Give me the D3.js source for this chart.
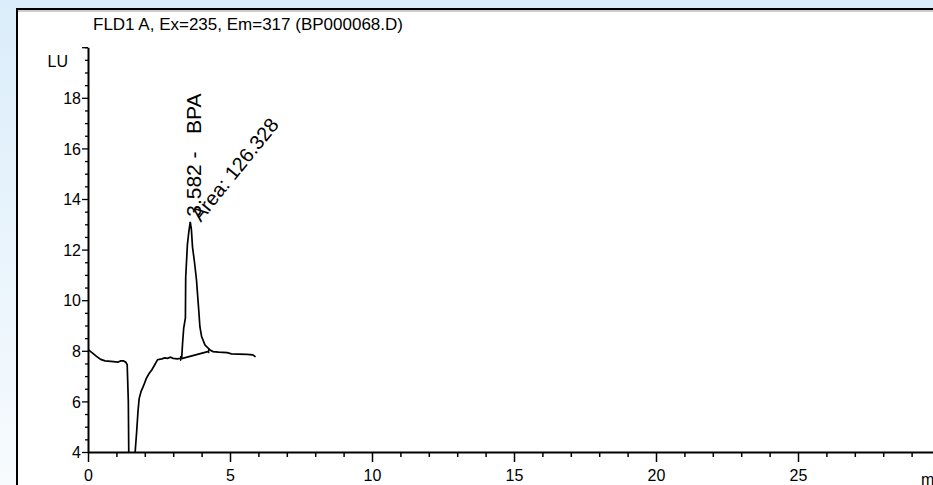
<!DOCTYPE html>
<html>
<head>
<meta charset="utf-8">
<script src="https://cdn.jsdelivr.net/npm/d3@7"></script>
<style>
  body { margin: 0; background: #ffffff; }
  svg { display: block; }
  text { font-family: "Liberation Sans", Arial, Helvetica, sans-serif; fill: #000; }
</style>
</head>
<body>
<svg id="chart" width="933" height="485"></svg>
<script>
// Signal header and axis ticks
const chartTitle = 'FLD1 A, Ex=235, Em=317 (BP000068.D)';
const yUnit = 'LU';
const xUnit = 'min';
const yMajorTicks = [4, 6, 8, 10, 12, 14, 16, 18];
const xMajorTicks = [0, 5, 10, 15, 20, 25];

// FLD trace: [retention time (min), signal (LU)]
const traceTimes = [
  0, 0.15, 0.3, 0.45, 0.6, 0.9, 1.05, 1.15, 1.25, 1.33, 1.38, 1.42, 1.45,
  1.62, 1.66, 1.71, 1.76, 1.8, 1.87, 1.95, 2.05, 2.15, 2.25, 2.35, 2.45,
  2.6, 2.7, 2.8, 2.9, 3.0, 3.15, 3.25, 3.3, 3.33, 3.37, 3.43, 3.44, 3.5,
  3.55, 3.6, 3.64, 3.68, 3.75, 3.82, 3.9, 3.94, 4.0, 4.12, 4.3, 4.4, 4.6,
  4.9, 5.05, 5.3, 5.6, 5.8, 5.9
];
const traceValues = [
  8.05, 7.92, 7.78, 7.66, 7.6, 7.57, 7.55, 7.6, 7.6, 7.55, 7.45, 6.0, 2.0,
  2.0, 4.0, 4.75, 5.6, 6.1, 6.4, 6.6, 6.9, 7.1, 7.25, 7.45, 7.65,
  7.68, 7.72, 7.7, 7.75, 7.7, 7.68, 7.7, 7.72, 8.3, 8.9, 9.3, 10.9, 12.2,
  12.7, 13.1, 12.8, 12.1, 11.5, 10.8, 9.6, 8.95, 8.56, 8.23, 8.03, 7.97, 7.95,
  7.93, 7.88, 7.87, 7.86, 7.84, 7.76
];

// integration baseline of the BPA peak
const baselineTimes = [3.26, 4.25];
const baselineValues = [7.68, 7.98];

// peak annotation
const peakTime = 3.582;
const peakValue = 13.1;
const peakName = 'BPA';
const peakArea = 126.328;

const svg = d3.select('#chart');
const width = 933;
const height = 485;

// Window background (light blue fading down the left strip)
const defs = svg.append('defs');
const grad = defs.append('linearGradient')
  .attr('id', 'bg-grad')
  .attr('x1', 0).attr('y1', 0).attr('x2', 0).attr('y2', 1);
grad.append('stop').attr('offset', '0%').attr('stop-color', '#dbedfa');
grad.append('stop').attr('offset', '100%').attr('stop-color', '#f7fbfe');

svg.append('rect')
  .attr('width', width)
  .attr('height', height)
  .attr('fill', 'url(#bg-grad)');

// White plot panel with a black frame
svg.append('rect')
  .attr('x', 17)
  .attr('y', 9)
  .attr('width', width)
  .attr('height', height)
  .attr('fill', '#fff')
  .attr('stroke', '#000')
  .attr('stroke-width', 2);
svg.append('line')
  .attr('x1', 18).attr('x2', width)
  .attr('y1', 11).attr('y2', 11)
  .attr('stroke', '#9a9a9a')
  .attr('stroke-width', 1);

const x = d3.scaleLinear().domain([0, 30]).range([88, 88 + 30 * 28.4]);
const y = d3.scaleLinear().domain([4, 20]).range([452, 47.2]);

const titleSize = 17;
const tickSize = 16;
const peakSize = 20;

// Title
svg.append('text')
  .attr('x', 93)
  .attr('y', 30)
  .style('font-size', `${titleSize}px`)
  .text(chartTitle);

// Y axis: minor ticks then major ticks
const yMinor = d3.range(4, 20.01, 0.5).filter((v) => !yMajorTicks.includes(v));
svg.append('g')
  .attr('transform', 'translate(88,0)')
  .call(d3.axisLeft(y).tickValues(yMinor).tickSize(3).tickSizeOuter(0).tickFormat(''))
  .call((g) => g.select('.domain').remove())
  .call((g) => g.selectAll('line').attr('stroke', '#000').attr('stroke-width', 1.3));

const yAxis = svg.append('g')
  .attr('transform', 'translate(88,0)')
  .call(d3.axisLeft(y).tickValues(yMajorTicks.concat([20])).tickSize(6).tickSizeOuter(0)
    .tickFormat((d) => (d === 20 ? '' : d)));
yAxis.select('.domain').attr('stroke', '#000').attr('stroke-width', 2);
yAxis.selectAll('line').attr('stroke', '#000').attr('stroke-width', 1.3);
yAxis.selectAll('text')
  .attr('x', -7)
  .attr('dy', '0.36em')
  .style('font-size', `${tickSize}px`)
  .style('font-family', '"Liberation Sans", Arial, sans-serif')
  .attr('fill', '#000');

svg.append('text')
  .attr('x', 68)
  .attr('y', 67)
  .attr('text-anchor', 'end')
  .style('font-size', `${tickSize}px`)
  .text(yUnit);

// X axis
const xMinor = d3.range(0, 31, 1).filter((v) => !xMajorTicks.includes(v));
svg.append('g')
  .attr('transform', `translate(0,${y(4)})`)
  .call(d3.axisBottom(x).tickValues(xMinor).tickSize(5).tickSizeOuter(0).tickFormat(''))
  .call((g) => g.select('.domain').remove())
  .call((g) => g.selectAll('line').attr('stroke', '#000').attr('stroke-width', 1.5));

const xAxis = svg.append('g')
  .attr('transform', `translate(0,${y(4)})`)
  .call(d3.axisBottom(x).tickValues(xMajorTicks).tickSize(10).tickSizeOuter(0));
xAxis.select('.domain').attr('stroke', '#000').attr('stroke-width', 2);
xAxis.selectAll('line').attr('stroke', '#000').attr('stroke-width', 1.5);
xAxis.selectAll('text')
  .attr('y', 18)
  .attr('dy', '0.71em')
  .style('font-size', `${tickSize}px`)
  .style('font-family', '"Liberation Sans", Arial, sans-serif')
  .attr('fill', '#000');

svg.append('text')
  .attr('x', 921)
  .attr('y', 485)
  .style('font-size', `${tickSize}px`)
  .text(xUnit);

// Trace, clipped at the bottom of the axis
defs.append('clipPath')
  .attr('id', 'plot-clip')
  .append('rect')
  .attr('x', x(0))
  .attr('y', y(20))
  .attr('width', x(30) - x(0))
  .attr('height', y(4) - y(20));

const line = d3.line()
  .x((d) => x(d[0]))
  .y((d) => y(d[1]));

const trace = traceTimes.map((t, i) => [t, traceValues[i]]);
svg.append('path')
  .datum(trace)
  .attr('clip-path', 'url(#plot-clip)')
  .attr('fill', 'none')
  .attr('stroke', '#000')
  .attr('stroke-width', 1.7)
  .attr('d', line);

const baseline = baselineTimes.map((t, i) => [t, baselineValues[i]]);
svg.append('path')
  .datum(baseline)
  .attr('fill', 'none')
  .attr('stroke', '#000')
  .attr('stroke-width', 1.7)
  .attr('d', line);

// start/end markers of the integration
svg.selectAll('.peak-mark')
  .data(baseline)
  .join('line')
  .attr('class', 'peak-mark')
  .attr('x1', (d) => x(d[0]))
  .attr('x2', (d) => x(d[0]))
  .attr('y1', (d) => y(d[1]) - 3)
  .attr('y2', (d) => y(d[1]) + 2)
  .attr('stroke', '#000')
  .attr('stroke-width', 1.3);

// Peak labels
const px = x(peakTime);
const py = y(peakValue);
svg.append('text')
  .attr('transform', `translate(${px + 11},${py - 5}) rotate(-90)`)
  .style('font-size', '21px')
  .style('white-space', 'pre')
  .text(`${peakTime} -   ${peakName}`);

svg.append('text')
  .attr('transform', `translate(${px + 11},${py + 1}) rotate(-51)`)
  .style('font-size', `${peakSize}px`)
  .text(`Area: ${peakArea}`);
</script>
</body>
</html>
